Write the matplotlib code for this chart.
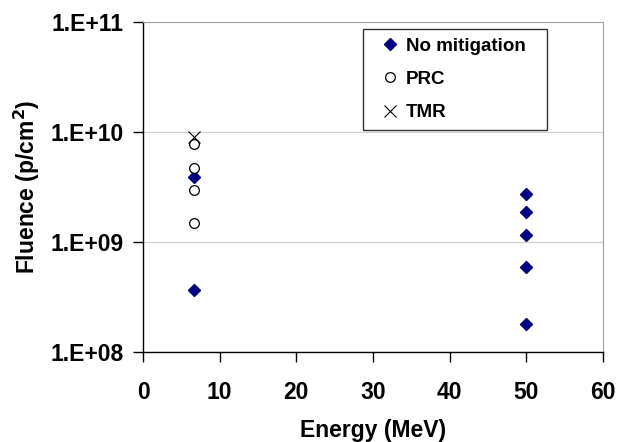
import matplotlib.pyplot as plt
from matplotlib.ticker import FixedLocator, NullLocator

plt.rcParams['font.family'] = ['Liberation Sans', 'DejaVu Sans']
plt.rcParams['font.weight'] = 'bold'

# data
no_mit_x = [6.7, 6.7, 50, 50, 50, 50, 50]
no_mit_y = [3.9e9, 3.7e8, 2.75e9, 1.87e9, 1.15e9, 5.9e8, 1.78e8]
prc_x = [6.7, 6.7, 6.7, 6.7]
prc_y = [7.8e9, 4.7e9, 3.0e9, 1.5e9]
tmr_x = [6.7]
tmr_y = [9.1e9]

yticks = [1e8, 1e9, 1e10, 1e11]
ytick_labels = ['1.E+08', '1.E+09', '1.E+10', '1.E+11']

fig = plt.figure(figsize=(6.18, 4.42), dpi=100)
ax = fig.add_axes([0.2314, 0.2036, 0.7443, 0.7464])

ax.plot(no_mit_x, no_mit_y, 'D', color='#000080', markersize=6.5, linestyle='none',
        label='No mitigation', zorder=3)
ax.plot(prc_x, prc_y, 'o', markerfacecolor='white', markeredgecolor='black',
        markeredgewidth=0.9, markersize=7, linestyle='none', label='PRC', zorder=3)
ax.plot(tmr_x, tmr_y, 'x', color='black', markersize=8, markeredgewidth=0.8,
        linestyle='none', label='TMR', zorder=4)

ax.set_yscale('log')
ax.set_ylim(1e8, 1e11)
ax.set_xlim(0, 60)
ax.yaxis.set_major_locator(FixedLocator(yticks))
ax.yaxis.set_minor_locator(NullLocator())
ax.set_yticklabels(ytick_labels)
ax.set_xticks(range(0, 61, 10))

ax.grid(axis='y', color='#d0d0d0', linewidth=0.9)
ax.set_axisbelow(True)
for s in ['top', 'right']:
    ax.spines[s].set_color('#a0a0a0')
for s in ['left', 'bottom']:
    ax.spines[s].set_color('black')
    ax.spines[s].set_linewidth(1.0)

ax.tick_params(axis='both', direction='out', length=7, width=1, labelsize=16.5)
ax.tick_params(axis='y', pad=7)
ax.tick_params(axis='x', pad=14)

ax.set_xlabel('Energy (MeV)', fontsize=16.5, fontweight='bold', labelpad=11)
ax.set_ylabel('Fluence (p/cm$^\\mathbf{2}$)', fontsize=16.5, fontweight='bold', labelpad=6)

leg = ax.legend(loc='upper left', bbox_to_anchor=(0.478, 0.676, 0.4, 0.303),
                mode='expand', fontsize=13.5, frameon=True, fancybox=False,
                edgecolor='black', handlelength=2.0, handletextpad=-0.15,
                borderpad=0.45, labelspacing=0.86, borderaxespad=0)
leg.get_frame().set_linewidth(1.0)
for t in leg.get_texts():
    t.set_fontweight('bold')

fig.savefig('out.png', dpi=100)
